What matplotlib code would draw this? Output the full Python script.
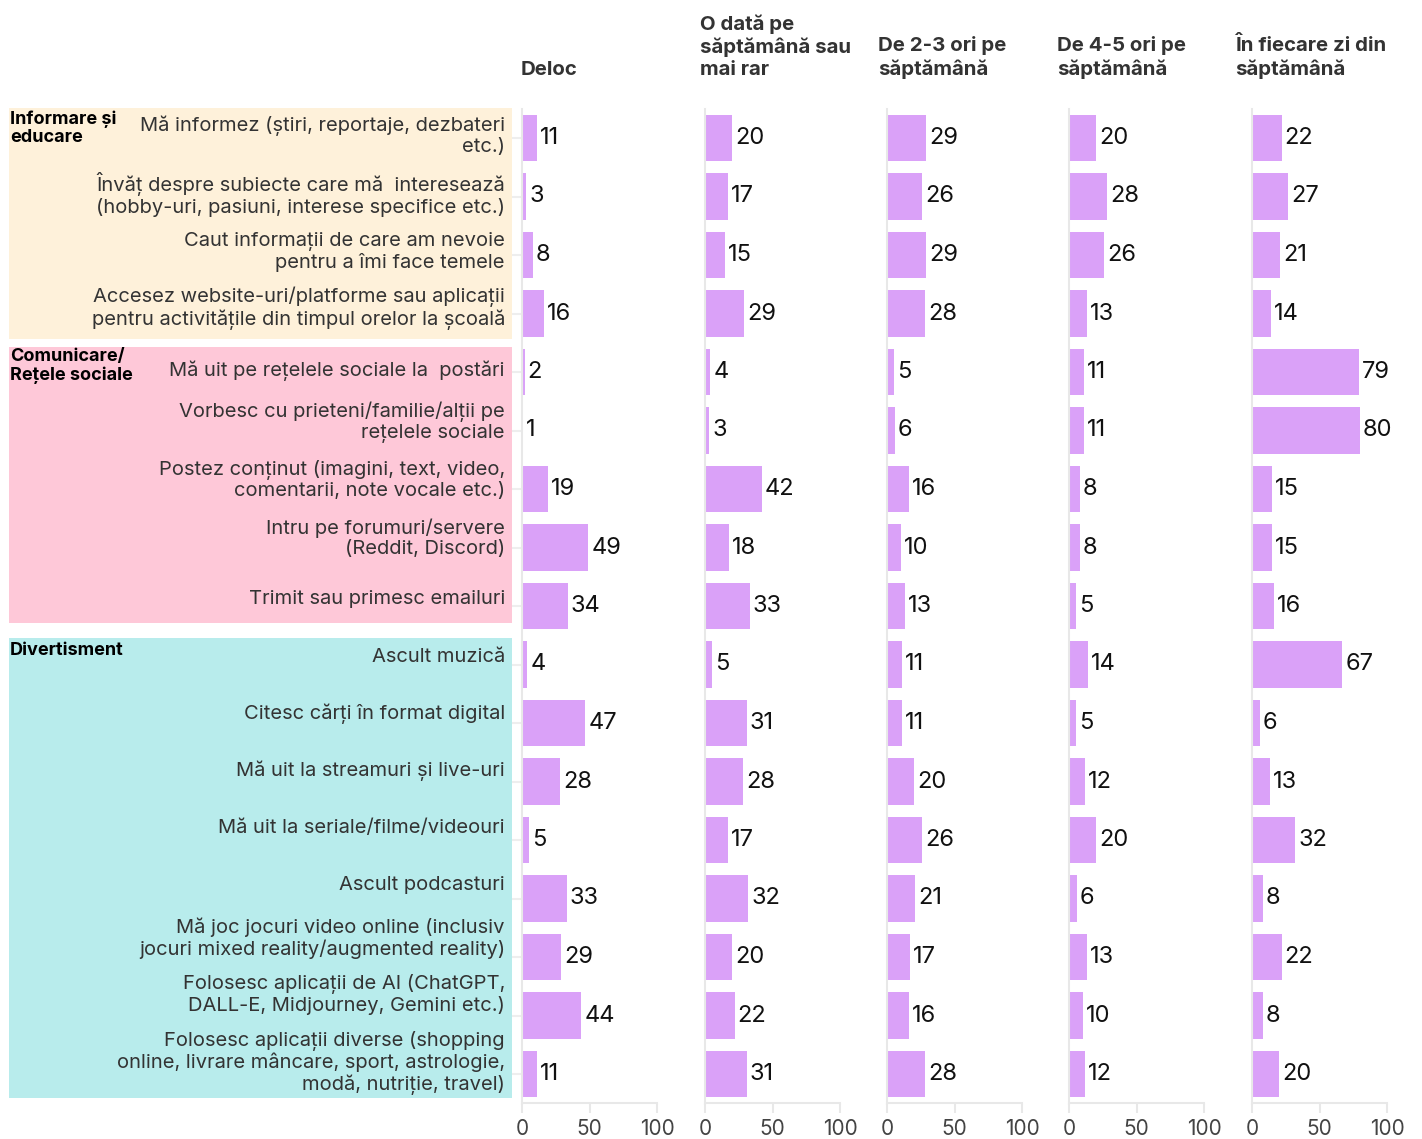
import matplotlib
matplotlib.use("Agg")
import matplotlib.pyplot as plt
from matplotlib.patches import Rectangle

plt.rcParams['font.family'] = ['Inter', 'DejaVu Sans']

# ---- data ----
items = [
    "Mă informez (știri, reportaje, dezbateri\netc.)",
    "Învăț despre subiecte care mă  interesează\n(hobby-uri, pasiuni, interese specifice etc.)",
    "Caut informații de care am nevoie\npentru a îmi face temele",
    "Accesez website-uri/platforme sau aplicații\npentru activitățile din timpul orelor la școală",
    "Mă uit pe rețelele sociale la  postări",
    "Vorbesc cu prieteni/familie/alții pe\nrețelele sociale",
    "Postez conținut (imagini, text, video,\ncomentarii, note vocale etc.)",
    "Intru pe forumuri/servere\n(Reddit, Discord)",
    "Trimit sau primesc emailuri",
    "Ascult muzică",
    "Citesc cărți în format digital",
    "Mă uit la streamuri și live-uri",
    "Mă uit la seriale/filme/videouri",
    "Ascult podcasturi",
    "Mă joc jocuri video online (inclusiv\njocuri mixed reality/augmented reality)",
    "Folosesc aplicații de AI (ChatGPT,\nDALL-E, Midjourney, Gemini etc.)",
    "Folosesc aplicații diverse (shopping\nonline, livrare mâncare, sport, astrologie,\nmodă, nutriție, travel)",
]
headers = ["Deloc", "O dată pe\nsăptămână sau\nmai rar", "De 2-3 ori pe\nsăptămână",
           "De 4-5 ori pe\nsăptămână", "În fiecare zi din\nsăptămână"]
groups = ["Informare și\neducare", "Comunicare/\nRețele sociale", "Divertisment"]

deloc =      [11, 3, 8, 16, 2, 1, 19, 49, 34, 4, 47, 28, 5, 33, 29, 44, 11]
o_data =     [20, 17, 15, 29, 4, 3, 42, 18, 33, 5, 31, 28, 17, 32, 20, 22, 31]
de_2_3 =     [29, 26, 29, 28, 5, 6, 16, 10, 13, 11, 11, 20, 26, 21, 17, 16, 28]
de_4_5 =     [20, 28, 26, 13, 11, 11, 8, 8, 5, 14, 5, 12, 20, 6, 13, 10, 12]
zilnic =     [22, 27, 21, 14, 79, 80, 15, 15, 16, 67, 6, 13, 32, 8, 22, 8, 20]
series = [deloc, o_data, de_2_3, de_4_5, zilnic]
xticks = [0, 50, 100]

# ---- layout (pixels) ----
W, H = 1422, 1139
def fx(px): return px / W
def fy(py): return 1 - py / H

BAR = '#DAA1F8'
GRID = '#e8e8e8'
fig = plt.figure(figsize=(W / 100, H / 100), dpi=100)

row0, step = 138, 58.5
top_px = row0 - 0.5 * step
bot_px = row0 + 16.5 * step
n = len(items)
lefts = [522, 705, 887, 1069, 1252]
header_x = [521, 700, 878, 1057, 1235]
pw = 135
label_dy = [2, 2, 3, 5, 1, 8, 9, 9, 7, 7, 9, 11, 12, 13, 19, 21, 11]

# group backgrounds
bgs = [((9, 108, 512, 339), '#FEF1DA'), ((9, 347, 512, 623), '#FEC8D8'), ((9, 638, 512, 1098), '#B8ECEC')]
for (x0, y0, x1, y1), c in bgs:
    fig.add_artist(Rectangle((fx(x0), fy(y1)), (x1 - x0) / W, (y1 - y0) / H,
                             transform=fig.transFigure, facecolor=c, edgecolor='none', zorder=-1))
for g, ypx in zip(groups, [110, 348, 642]):
    fig.text(fx(10), fy(ypx), g, ha='left', va='top', fontsize=13, fontweight='bold',
             color='black', linespacing=1.12)

axes = []
for k, (vals, l) in enumerate(zip(series, lefts)):
    ax = fig.add_axes([fx(l), fy(bot_px), pw / W, (bot_px - top_px) / H])
    ax.barh(range(n), vals, height=0.8, color=BAR, zorder=2)
    for i, v in enumerate(vals):
        ax.annotate(str(v), (v, i), xytext=(3, 0), textcoords='offset pixels',
                    ha='left', va='center', fontsize=17, color='#111', annotation_clip=False)
    ax.set_xlim(0, 100)
    ax.set_ylim(n - 0.5, -0.5)
    for s in ['top', 'right']:
        ax.spines[s].set_visible(False)
    for s in ['left', 'bottom']:
        ax.spines[s].set_color(GRID)
        ax.spines[s].set_linewidth(1.5)
    ax.set_xticks(xticks)
    ax.tick_params(axis='x', length=7, width=1.5, color=GRID, labelsize=15,
                   labelcolor='#444', pad=4)
    if k == 0:
        ax.set_yticks(range(n))
        ax.set_yticklabels([])
        ax.tick_params(axis='y', length=7, width=1.5, color='#eeeeee')
    else:
        ax.set_yticks([])
    ax.patch.set_alpha(0)
    axes.append(ax)

for hdr, hx in zip(headers, header_x):
    fig.text(fx(hx), fy(79), hdr, ha='left', va='bottom', fontsize=14.7, fontweight='bold',
             color='#333', linespacing=1.27)

ax0 = axes[0]
for i, (lab, dy) in enumerate(zip(items, label_dy)):
    ax0.annotate(lab, xy=(fx(505), i), xycoords=('figure fraction', 'data'),
                 xytext=(0, dy), textcoords='offset pixels', ha='right', va='center',
                 fontsize=14.5, color='#333', linespacing=1.15, annotation_clip=False)

fig.savefig('out.png', dpi=100)
